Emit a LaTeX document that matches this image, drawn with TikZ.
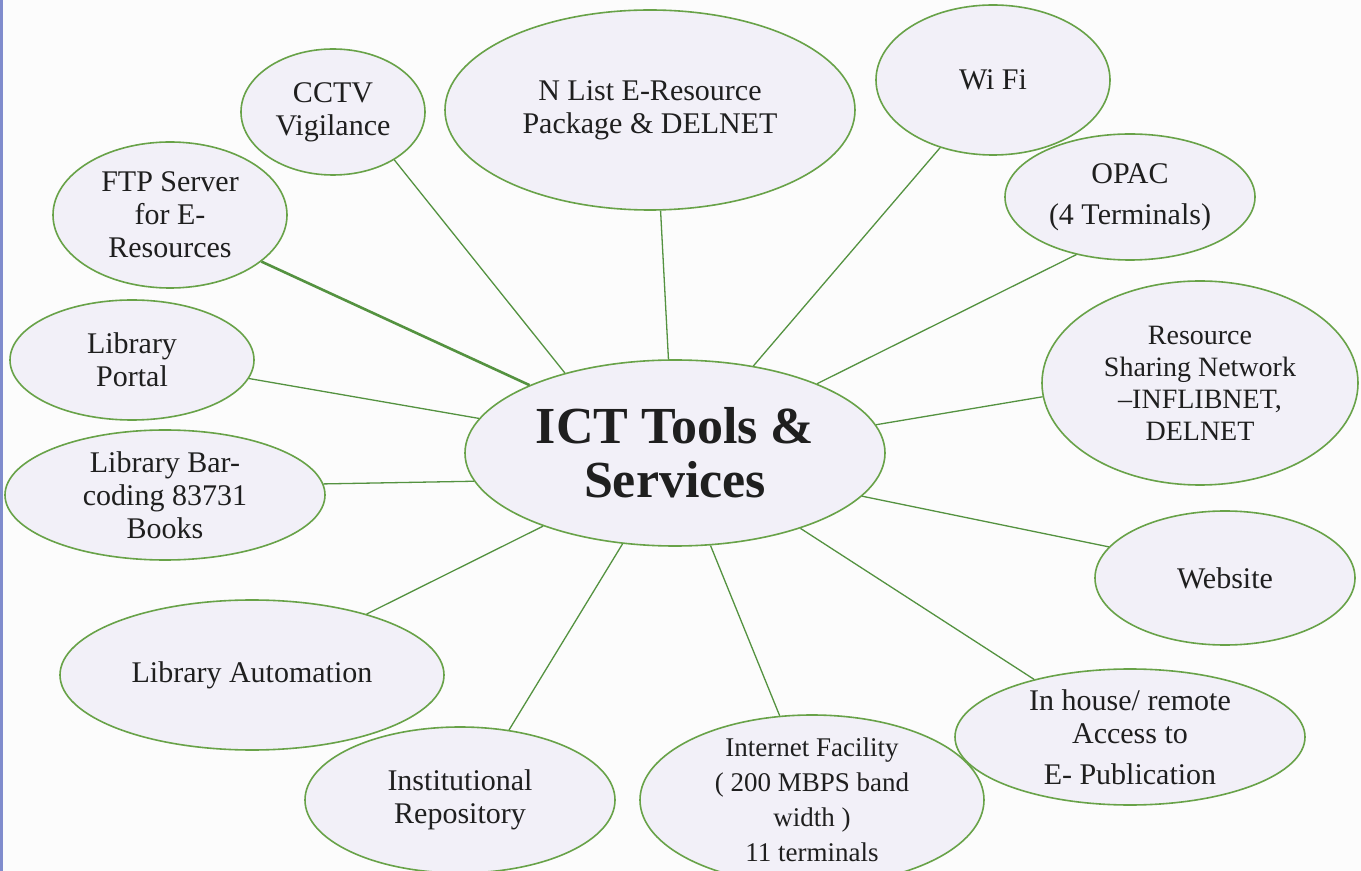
\documentclass[tikz,border=0pt]{standalone}
\usepackage{fontspec}
\setmainfont{Liberation Serif}
\usetikzlibrary{shapes.geometric}
\definecolor{bubblefill}{RGB}{242,240,248}
\definecolor{bubbleline}{RGB}{104,162,72}
\definecolor{spoke}{RGB}{84,146,64}
\definecolor{edgeblue}{RGB}{128,140,205}
\tikzset{
  bubble/.style={ellipse, draw=bubbleline, line width=0.8pt, fill=bubblefill,
    inner sep=0pt, align=center, text=black!88, font=\fontsize{15}{16.5}\selectfont},
  spokeline/.style={draw=spoke, line width=0.65pt}
}
\begin{document}
\begin{tikzpicture}[x=0.5pt,y=-0.5pt]
      \useasboundingbox[fill=black!1] (0,0) rectangle (1361,871);
      \fill[edgeblue] (0,0) rectangle (3,871);
      \node[bubble, minimum width=210pt, minimum height=93pt, font=\bfseries\fontsize{26}{27}\selectfont] (ict) at (675,453) {ICT Tools \&\\Services};
      \node[bubble, minimum width=92pt, minimum height=63pt] (cctv) at (333,112) {CCTV\\Vigilance};
      \node[bubble, minimum width=205pt, minimum height=100pt] (nlist) at (650,110) {N List E-Resource\\Package \& DELNET};
      \node[bubble, minimum width=117pt, minimum height=75pt] (wifi) at (993,80) {Wi Fi};
      \node[bubble, minimum width=117pt, minimum height=73pt] (ftp) at (170,215) {FTP Server\\for E-\\Resources};
      \node[bubble, minimum width=125pt, minimum height=63pt] (opac) at (1130,197) {OPAC\\[4pt](4 Terminals)};
      \node[bubble, minimum width=158pt, minimum height=102pt, font=\fontsize{14}{16}\selectfont] (resource) at (1200,383) {Resource\\Sharing Network\\--INFLIBNET,\\DELNET};
      \node[bubble, minimum width=122pt, minimum height=60pt] (portal) at (132,360) {Library\\Portal};
      \node[bubble, minimum width=160pt, minimum height=65pt] (barcode) at (165,495) {Library Bar-\\coding 83731\\Books};
      \node[bubble, minimum width=130pt, minimum height=67pt] (website) at (1225,578) {Website};
      \node[bubble, minimum width=192pt, minimum height=75pt] (automation) at (252,675) {Library Automation};
      \node[bubble, minimum width=175pt, minimum height=68pt, inner ysep=-4pt] (inhouse) at (1130,737) {In house/ remote\\Access to\\[4pt]E- Publication};
      \node[bubble, minimum width=155pt, minimum height=73pt] (repository) at (460,800) {Institutional\\Repository};
      \node[bubble, minimum width=172pt, minimum height=85pt, inner ysep=-8pt, font=\fontsize{13.5}{17.5}\selectfont] (internet) at (812,800) {Internet Facility\\( 200 MBPS band\\width )\\11 terminals};
      \draw[spokeline] (ict.94) -- (nlist.-84);
      \draw[spokeline] (ict.144) -- (cctv.-38);
      \draw[spokeline] (ict.48) -- (wifi.-128);
      \draw[spokeline] (ict.26) -- (opac.-133);
      \draw[spokeline] (ict.8) -- (resource.-175);
      \draw[spokeline] (ict.-13) -- (website.165);
      \draw[spokeline] (ict.-31) -- (inhouse.149);
      \draw[spokeline] (ict.-69) -- (internet.111);
      \draw[spokeline] (ict.-120) -- (repository.55);
      \draw[spokeline] (ict.-151) -- (automation.28);
      \draw[spokeline] (ict.-172) -- (barcode.4);
      \draw[spokeline] (ict.170) -- (portal.-9);
      \draw[spokeline, line width=1.3pt] (ict.155) -- (ftp.-27);
\end{tikzpicture}
\end{document}
